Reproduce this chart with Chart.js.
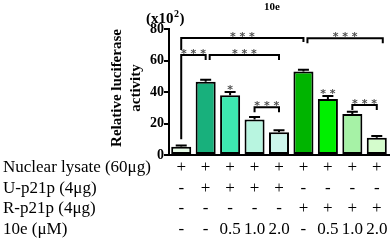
<!DOCTYPE html>
<html>
<head>
<meta charset="utf-8">
<script src="https://cdn.jsdelivr.net/npm/chart.js@4"></script>
<style>
  html, body { margin: 0; padding: 0; background: #fff; }
</style>
</head>
<body>
<canvas id="luciferaseChart" width="392" height="240"></canvas>
<script>
// treatment table (one entry per bar)
const rowLabels = ['Nuclear lysate (60μg)', 'U-p21p (4μg)', 'R-p21p (4μg)', '10e (μM)'];
const nuclearLysate = ['+', '+', '+', '+', '+', '+', '+', '+', '+'];
const uP21p = ['-', '+', '+', '+', '+', '-', '-', '-', '-'];
const rP21p = ['-', '-', '-', '-', '-', '+', '+', '+', '+'];
const dose10e = ['-', '-', '0.5', '1.0', '2.0', '-', '0.5', '1.0', '2.0'];

// relative luciferase activity (x10^2) and SEM
const activity = [5.2, 46.5, 38, 22.5, 14.5, 53, 35.5, 26, 11];
const errors = [0.8, 1.2, 2, 1.6, 1.2, 1.2, 2, 1.4, 1];
const yTicks = [0, 20, 40, 60, 80];

const barColors = ['#e6fbe6', '#18b07c', '#3de8b0', '#b8f5e0', '#ccf6ec',
                   '#00b400', '#00f000', '#a6f2a6', '#d4fccc'];

// significance brackets: bar indexes, height in data units
const brackets = [
    { from: 0, to: 5, y: 74.3, legL: 12, legR: 4, dx0: 0, dx1: 0, text: '* * *' },
    { from: 0, to: 1, y: 63.5, legL: 0, legR: 5, dx0: 0, dx1: 0, text: '* * *', longLeg: 10 },
    { from: 1, to: 4, y: 63.5, legL: 5, legR: 5, dx0: 4, dx1: 0, text: '* * *' },
    { from: 5, to: 8, y: 74.1, legL: 5, legR: 5, dx0: 4, dx1: 6, text: '* * *' },
    { from: 3, to: 4, y: 30.3, legL: 5, legR: 5, dx0: 0, dx1: 0, text: '* * *' },
    { from: 7, to: 8, y: 31.7, legL: 5, legR: 5, dx0: 0, dx1: 0, text: '* * *' }
];
const singleMarks = [
    { index: 2, y: 43.5, text: '*' },
    { index: 6, y: 41, text: '* *' }
];

const labels = nuclearLysate.map((v, i) => [v, uP21p[i], rP21p[i], dose10e[i]]);

const serif = '"Liberation Serif", "Times New Roman", serif';

const extrasPlugin = {
    id: 'extras',
    afterDatasetsDraw(chart) {
        const ctx = chart.ctx;
        const x = chart.scales.x, y = chart.scales.y;
        ctx.save();
        ctx.strokeStyle = '#000';
        ctx.lineWidth = 2;
        // error bars (upper half only)
        activity.forEach((v, i) => {
            const cx = x.getPixelForValue(i);
            const top = y.getPixelForValue(v);
            const cap = y.getPixelForValue(v + errors[i]);
            ctx.beginPath();
            ctx.moveTo(cx, top);
            ctx.lineTo(cx, cap);
            ctx.moveTo(cx - 5.5, cap);
            ctx.lineTo(cx + 5.5, cap);
            ctx.stroke();
        });
        ctx.restore();
    },
    afterDraw(chart) {
        const ctx = chart.ctx;
        const x = chart.scales.x, y = chart.scales.y;
        const area = chart.chartArea;
        ctx.save();

        // brackets
        ctx.strokeStyle = '#000';
        ctx.lineWidth = 2;
        ctx.fillStyle = '#505050';
        ctx.font = 'bold 11px "DejaVu Sans", sans-serif';
        ctx.textAlign = 'center';
        ctx.textBaseline = 'alphabetic';
        brackets.forEach(b => {
            const x0 = x.getPixelForValue(b.from) + b.dx0;
            const x1 = x.getPixelForValue(b.to) + b.dx1;
            const py = y.getPixelForValue(b.y);
            ctx.beginPath();
            const yl = b.longLeg !== undefined ? y.getPixelForValue(b.longLeg) : py + b.legL;
            ctx.moveTo(x0, yl);
            ctx.lineTo(x0, py);
            ctx.lineTo(x1, py);
            ctx.lineTo(x1, py + b.legR);
            ctx.stroke();
            ctx.fillText(b.text, (x0 + x1) / 2, py + 2);
        });
        singleMarks.forEach(m => {
            ctx.fillText(m.text, x.getPixelForValue(m.index), y.getPixelForValue(m.y) + 7);
        });

        // y axis title
        ctx.fillStyle = '#000';
        ctx.font = 'bold 15px ' + serif;
        ctx.textBaseline = 'middle';
        const midY = (area.top + area.bottom) / 2 - 4;
        ctx.save();
        ctx.translate(117, midY);
        ctx.rotate(-Math.PI / 2);
        ctx.fillText('Relative luciferase', 0, 0);
        ctx.restore();
        ctx.save();
        ctx.translate(136, midY);
        ctx.rotate(-Math.PI / 2);
        ctx.fillText('activity', 0, 0);
        ctx.restore();

        // unit label (x10^2)
        ctx.textAlign = 'left';
        ctx.textBaseline = 'alphabetic';
        ctx.font = 'bold 15px ' + serif;
        let ux = 146;
        ctx.fillText('(x10', ux, 23);
        ux += ctx.measureText('(x10').width;
        ctx.font = 'bold 10px ' + serif;
        ctx.fillText('2', ux + 0.5, 17);
        ux += ctx.measureText('2').width + 1;
        ctx.font = 'bold 15px ' + serif;
        ctx.fillText(')', ux, 23);

        // title
        ctx.textAlign = 'center';
        ctx.textBaseline = 'middle';
        ctx.font = 'bold 11px ' + serif;
        ctx.fillText('10e', 272, 7);

        // row headers of the treatment table
        ctx.textAlign = 'left';
        ctx.font = '17px ' + serif;
        rowLabels.forEach((t, i) => {
            ctx.fillText(t, 3, area.bottom + 2.5 + 10.25 + i * 20.5);
        });
        ctx.restore();
    }
};

new Chart(document.getElementById('luciferaseChart'), {
    type: 'bar',
    data: {
        labels: labels,
        datasets: [{
            data: activity,
            backgroundColor: barColors,
            borderColor: '#000',
            borderWidth: 2,
            borderSkipped: false,
            barPercentage: 0.82,
            categoryPercentage: 1
        }]
    },
    options: {
        responsive: false,
        animation: false,
        layout: { padding: { top: 29, right: 3, left: 0, bottom: 0 } },
        plugins: {
            legend: { display: false },
            tooltip: { enabled: false }
        },
        scales: {
            x: {
                grid: { display: false, drawTicks: false },
                border: { color: '#000', width: 2 },
                ticks: {
                    color: '#000',
                    padding: 2.5,
                    maxRotation: 0,
                    autoSkip: false,
                    font: { family: serif, size: 17, lineHeight: '20.5px' }
                },
                afterFit(scale) { scale.height = 85; }
            },
            y: {
                min: 0,
                max: 80,
                afterBuildTicks(scale) { scale.ticks = yTicks.map(v => ({ value: v })); },
                grid: { display: true, drawOnChartArea: false, drawTicks: true, tickLength: 5, color: '#000', lineWidth: 2 },
                border: { color: '#000', width: 2 },
                ticks: {
                    color: '#000',
                    padding: 0,
                    font: { family: serif, size: 14, weight: 'bold' }
                },
                afterFit(scale) { scale.width = 169; }
            }
        }
    },
    plugins: [extrasPlugin]
});
</script>
</body>
</html>
